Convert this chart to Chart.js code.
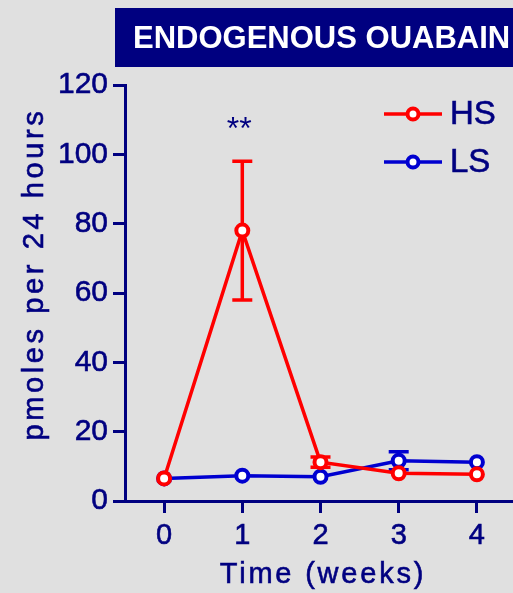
<!DOCTYPE html>
<html>
<head>
<meta charset="utf-8">
<script src="https://cdn.jsdelivr.net/npm/chart.js@4"></script>
<style>
  html, body { margin: 0; padding: 0; background: #e0e0e0; overflow: hidden; }
  #wrap { width: 530px; height: 593px; }
</style>
</head>
<body>
<div id="wrap"><canvas id="myChart" width="530" height="593"></canvas></div>
<script>
// weeks on salt diet
const weeks = [0, 1, 2, 3, 4];
// high salt group
const hsValues = [6.5, 78, 11.2, 8.0, 7.7];
const hsErrors = [0, 20, 1.5, 0, 0];
// low salt group
const lsValues = [6.5, 7.3, 7.0, 11.6, 11.2];
const lsErrors = [0, 0, 0, 2.6, 0];
const yTicks = [0, 20, 40, 60, 80, 100, 120];

const NAVY = '#000080';
const RED = '#ff0000';
const BLUE = '#0000d0';
const FONT = "'Liberation Sans', Arial, sans-serif";

function points(values) {
    return weeks.map((w, i) => ({ x: w, y: values[i] }));
}

// filled text with a thin outline so it reads a little heavier
function heavyText(ctx, text, x, y) {
    ctx.fillText(text, x, y);
    ctx.strokeText(text, x, y);
}

// error bars under the markers
const errorBars = {
    id: 'errorBars',
    beforeDatasetsDraw(chart) {
        const ctx = chart.ctx;
        const xs = chart.scales.x, ys = chart.scales.y;
        const sets = [[lsValues, lsErrors, BLUE], [hsValues, hsErrors, RED]];
        ctx.save();
        ctx.lineWidth = 3.5;
        sets.forEach(([vals, errs, color]) => {
            ctx.strokeStyle = color;
            weeks.forEach((w, i) => {
                if (!errs[i]) return;
                const px = xs.getPixelForValue(w);
                const top = ys.getPixelForValue(vals[i] + errs[i]);
                const bot = ys.getPixelForValue(vals[i] - errs[i]);
                ctx.beginPath();
                ctx.moveTo(px, top); ctx.lineTo(px, bot);
                ctx.moveTo(px - 10, top); ctx.lineTo(px + 10, top);
                ctx.moveTo(px - 10, bot); ctx.lineTo(px + 10, bot);
                ctx.stroke();
            });
        });
        ctx.restore();
    }
};

// title box, axis titles, legend and significance mark
const decorations = {
    id: 'decorations',
    afterDraw(chart) {
        const ctx = chart.ctx;
        const xs = chart.scales.x, ys = chart.scales.y;
        ctx.save();

        // title box
        ctx.fillStyle = NAVY;
        ctx.fillRect(115, 8, 420, 59);
        ctx.fillStyle = '#ffffff';
        ctx.font = 'bold 31px ' + FONT;
        ctx.textAlign = 'left';
        ctx.textBaseline = 'alphabetic';
        ctx.fillText('ENDOGENOUS OUABAIN', 133, 48);

        // axis titles
        ctx.fillStyle = NAVY;
        ctx.strokeStyle = NAVY;
        ctx.lineWidth = 0.6;
        ctx.font = '29px ' + FONT;
        ctx.textAlign = 'center';
        ctx.letterSpacing = '2.8px';
        heavyText(ctx, 'Time (weeks)', 323, 583);
        ctx.save();
        ctx.translate(43, 274);
        ctx.rotate(-Math.PI / 2);
        ctx.letterSpacing = '3.6px';
        heavyText(ctx, 'pmoles per 24 hours', 0, 0);
        ctx.restore();
        ctx.letterSpacing = '0px';

        // significance mark over week 1
        ctx.font = '32px ' + FONT;
        ctx.textBaseline = 'middle';
        ctx.fillText('**', xs.getPixelForValue(1) - 3, ys.getPixelForValue(108) + 4);

        // legend
        const items = [['HS', RED, 114], ['LS', BLUE, 162]];
        items.forEach(([label, color, y]) => {
            ctx.strokeStyle = color;
            ctx.lineWidth = 3.5;
            ctx.beginPath();
            ctx.moveTo(384, y); ctx.lineTo(442, y);
            ctx.stroke();
            ctx.fillStyle = '#ffffff';
            ctx.lineWidth = 4;
            ctx.beginPath();
            ctx.arc(413, y, 5.5, 0, Math.PI * 2);
            ctx.fill();
            ctx.stroke();
            ctx.fillStyle = NAVY;
            ctx.strokeStyle = NAVY;
            ctx.lineWidth = 0.6;
            ctx.font = '33px ' + FONT;
            ctx.textAlign = 'left';
            ctx.textBaseline = 'middle';
            heavyText(ctx, label, 450, y + 1);
        });
        ctx.restore();
    }
};

const data = {
    datasets: [{
        label: 'HS',
        data: points(hsValues),
        borderColor: RED,
        backgroundColor: '#ffffff',
        pointBackgroundColor: '#ffffff',
        pointBorderColor: RED,
        borderWidth: 3.5,
        pointBorderWidth: 4,
        pointRadius: 6,
        tension: 0
    }, {
        label: 'LS',
        data: points(lsValues),
        borderColor: BLUE,
        backgroundColor: '#ffffff',
        pointBackgroundColor: '#ffffff',
        pointBorderColor: BLUE,
        borderWidth: 3.5,
        pointBorderWidth: 4,
        pointRadius: 6,
        tension: 0
    }]
};

const tickStyle = {
    color: NAVY,
    textStrokeColor: NAVY,
    textStrokeWidth: 0.6
};

const config = {
    type: 'line',
    data: data,
    options: {
        responsive: false,
        animation: false,
        events: [],
        layout: { padding: { top: 85, left: 0, right: 14, bottom: 0 } },
        plugins: { legend: { display: false }, tooltip: { enabled: false } },
        scales: {
            x: {
                type: 'linear',
                min: -0.5,
                max: 4.5,
                afterBuildTicks: scale => { scale.ticks = weeks.map(v => ({ value: v })); },
                afterFit: scale => { scale.height = 92; },
                border: { display: true, color: NAVY, width: 3 },
                grid: { drawOnChartArea: false, drawTicks: true, tickLength: 12, color: NAVY, lineWidth: 3 },
                ticks: { ...tickStyle, font: { family: FONT, size: 29 }, padding: 6, autoSkip: false, maxRotation: 0 }
            },
            y: {
                min: 0,
                max: 120,
                afterBuildTicks: scale => { scale.ticks = yTicks.map(v => ({ value: v })); },
                afterFit: scale => { scale.width = 125; },
                border: { display: true, color: NAVY, width: 3 },
                grid: { drawOnChartArea: false, drawTicks: true, tickLength: 12, color: NAVY, lineWidth: 3 },
                ticks: { ...tickStyle, font: { family: FONT, size: 30 }, padding: 5 }
            }
        }
    },
    plugins: [errorBars, decorations]
};

const myChart = new Chart(document.getElementById('myChart'), config);
</script>
</body>
</html>
